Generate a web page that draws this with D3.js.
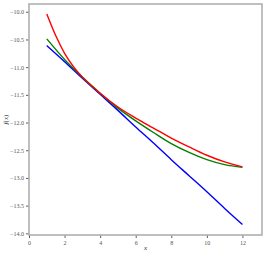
<!DOCTYPE html>
<html>
<head>
<meta charset="utf-8">
<script src="https://cdn.jsdelivr.net/npm/d3@7"></script>
<style>
  body { margin: 0; background: #fff; }
  svg text { font-family: "Liberation Serif", "DejaVu Serif", serif; }
</style>
</head>
<body>
<svg id="chart" width="266" height="255"></svg>
<script>
// values
const xs = [1, 2, 3, 4, 5, 6, 7, 8, 9, 10, 11, 12];
const redXs = [1, 1.5, 2, 2.5, 3, 4, 5, 6, 7, 8, 9, 10, 11, 12];
const redValues = [-10.04, -10.43, -10.75, -10.99, -11.18, -11.47, -11.72, -11.92, -12.10, -12.28, -12.44, -12.59, -12.71, -12.80];
const greenValues = [-10.49, -10.86, -11.18, -11.47, -11.74, -11.97, -12.18, -12.38, -12.54, -12.67, -12.76, -12.81];
const blueValues = [-10.61, -10.90, -11.20, -11.49, -11.78, -12.08, -12.37, -12.67, -12.96, -13.25, -13.55, -13.84];
const xTicks = [0, 2, 4, 6, 8, 10, 12];
const yTicks = [-10.0, -10.5, -11.0, -11.5, -12.0, -12.5, -13.0, -13.5, -14.0];

const svg = d3.select('#chart');
const margin = { top: 4, left: 29, right: 4, bottom: 20 };
const width = +svg.attr('width') - margin.left - margin.right;
const height = +svg.attr('height') - margin.top - margin.bottom;

const x = d3.scaleLinear().domain([0, 13.1]).range([0, width]);
const y = d3.scaleLinear().domain([-14.03, -9.86]).range([height, 0]);

const g = svg.append('g').attr('transform', `translate(${margin.left},${margin.top})`);

const fmt = d => d3.format('.1f')(d).replace('-', '\u2212');

// x axis
const xAxis = g.append('g')
  .attr('transform', `translate(0,${height})`)
  .call(d3.axisBottom(x).tickValues(xTicks).tickSize(3).tickPadding(3).tickFormat(d3.format('d')));
// y axis
const yAxis = g.append('g')
  .call(d3.axisLeft(y).tickValues(yTicks).tickSize(3).tickPadding(2).tickFormat(fmt));

[xAxis, yAxis].forEach(a => {
  a.select('.domain').remove();
  a.selectAll('.tick line').attr('stroke', '#333').attr('stroke-width', 0.8);
  a.selectAll('.tick text').attr('fill', '#555').style('font-size', '6px');
});

// frame
g.append('rect')
  .attr('width', width).attr('height', height)
  .attr('fill', 'none')
  .attr('stroke', '#b0b0b0')
  .attr('stroke-width', 1.6);

const line = d3.line()
  .curve(d3.curveMonotoneX)
  .x(d => x(d[0]))
  .y(d => y(d[1]));

const series = [
  { id: 'blue', color: '#0000ff', xs: xs, values: blueValues },
  { id: 'green', color: '#008000', xs: xs, values: greenValues },
  { id: 'red', color: '#ff0000', xs: redXs, values: redValues }
];

g.selectAll('.series')
  .data(series)
  .enter()
  .append('path')
  .attr('class', 'series')
  .attr('d', d => line(d.xs.map((v, i) => [v, d.values[i]])))
  .style('fill', 'none')
  .style('stroke', d => d.color)
  .style('stroke-width', '1.4px');

// axis labels
g.append('text')
  .attr('x', width / 2)
  .attr('y', height + 15)
  .attr('text-anchor', 'middle')
  .attr('fill', '#333')
  .style('font-size', '7px')
  .style('font-style', 'italic')
  .text('x');

const yLabel = g.append('text')
  .attr('transform', `translate(${-21},${height / 2}) rotate(-90)`)
  .attr('text-anchor', 'middle')
  .attr('fill', '#333')
  .style('font-size', '7px');
yLabel.append('tspan').style('font-style', 'italic').text('f');
yLabel.append('tspan').text('(');
yLabel.append('tspan').style('font-style', 'italic').text('x');
yLabel.append('tspan').text(')');
</script>
</body>
</html>
